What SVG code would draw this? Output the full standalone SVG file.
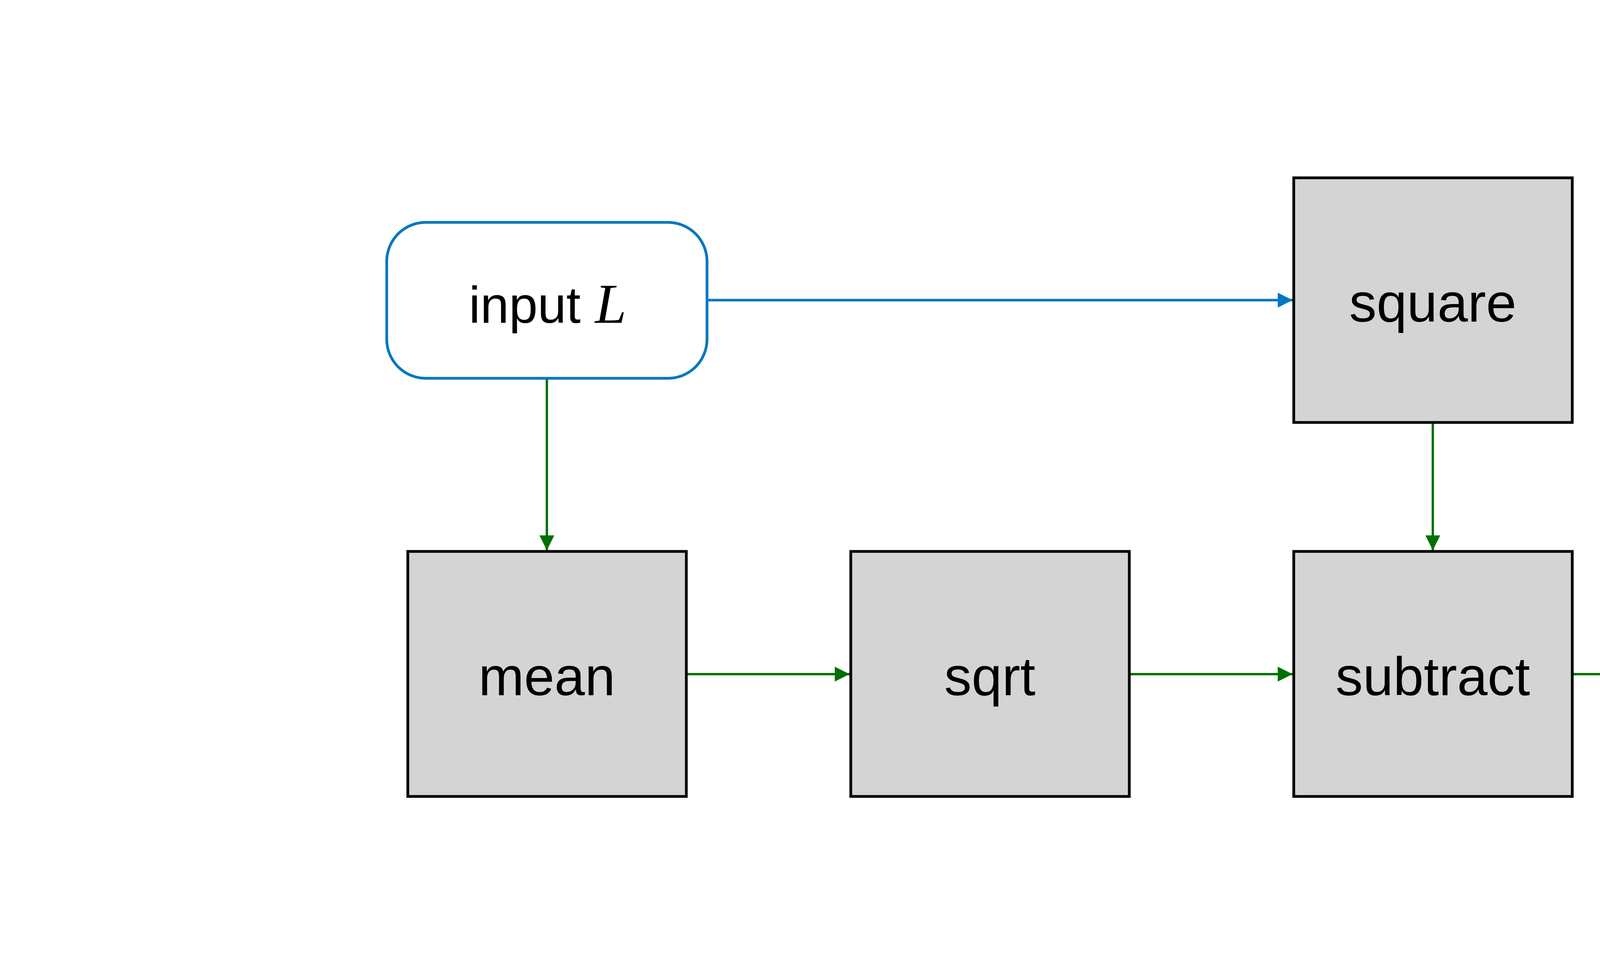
<svg xmlns="http://www.w3.org/2000/svg" width="6400" height="2500" viewBox="0 0 6400 2500">
  <style>
    .op { fill: #d4d4d4; stroke: #000000; stroke-width: 7; }
    .io { fill: #ffffff; stroke: #0077be; stroke-width: 7; }
    .lbl { font-family: "Liberation Sans", Arial, Helvetica, sans-serif; font-size: 140px; fill: #000000; text-anchor: middle; }
    .lbl-io { font-family: "Liberation Sans", Arial, Helvetica, sans-serif; font-size: 132px; fill: #000000; text-anchor: middle; }
    .math { font-family: "Liberation Serif", "Times New Roman", serif; font-style: italic; font-size: 145px; }
    .blue { fill: none; stroke: #0077be; stroke-width: 6.5; }
    .green { fill: none; stroke: #007000; stroke-width: 6; }
  </style>
  <defs>
    <marker id="arrowBlue" markerUnits="userSpaceOnUse" markerWidth="38" markerHeight="38" refX="38" refY="19" orient="auto">
      <path d="M0,0 L38,19 L0,38 Z" fill="#0077be"/>
    </marker>
    <marker id="arrowGreen" markerUnits="userSpaceOnUse" markerWidth="38" markerHeight="38" refX="38" refY="19" orient="auto">
      <path d="M0,0 L38,19 L0,38 Z" fill="#007000"/>
    </marker>
  </defs>
  <rect width="6400" height="2500" fill="#ffffff"/>

  <g id="connectors">
    <path class="blue" d="M1810,768 H3309" marker-end="url(#arrowBlue)"/>
    <path class="green" d="M1400,968 V1408" marker-end="url(#arrowGreen)"/>
    <path class="green" d="M1757,1725 H2175" marker-end="url(#arrowGreen)"/>
    <path class="green" d="M2891,1725 H3309" marker-end="url(#arrowGreen)"/>
    <path class="green" d="M4025,1725 H4443" marker-end="url(#arrowGreen)"/>
    <path class="green" d="M3668,1081 V1408" marker-end="url(#arrowGreen)"/>
    <path class="green" d="M4802,1411 V1084" marker-end="url(#arrowGreen)"/>
  </g>

  <g id="node-input">
    <rect class="io" x="990" y="569" width="820" height="399" rx="100" ry="100"/>
    <text class="lbl-io" x="1402" y="826">input <tspan class="math">L</tspan></text>
  </g>

  <g id="node-square">
    <rect class="op" x="3312" y="455" width="713" height="626"/>
    <text class="lbl" x="3668" y="823">square</text>
  </g>

  <g id="node-output">
    <rect class="io" x="4391" y="455" width="822" height="626" rx="100" ry="100"/>
    <text class="lbl-io" x="4802" y="740">output</text>
    <text class="lbl-io" x="4802" y="895">?</text>
  </g>

  <g id="node-mean1">
    <rect class="op" x="1044" y="1411" width="713" height="627"/>
    <text class="lbl" x="1400" y="1779">mean</text>
  </g>

  <g id="node-sqrt">
    <rect class="op" x="2178" y="1411" width="713" height="627"/>
    <text class="lbl" x="2534" y="1779">sqrt</text>
  </g>

  <g id="node-subtract">
    <rect class="op" x="3312" y="1411" width="713" height="627"/>
    <text class="lbl" x="3668" y="1779">subtract</text>
  </g>

  <g id="node-mean2">
    <rect class="op" x="4446" y="1411" width="713" height="627"/>
    <text class="lbl" x="4802" y="1779">mean</text>
  </g>
</svg>
